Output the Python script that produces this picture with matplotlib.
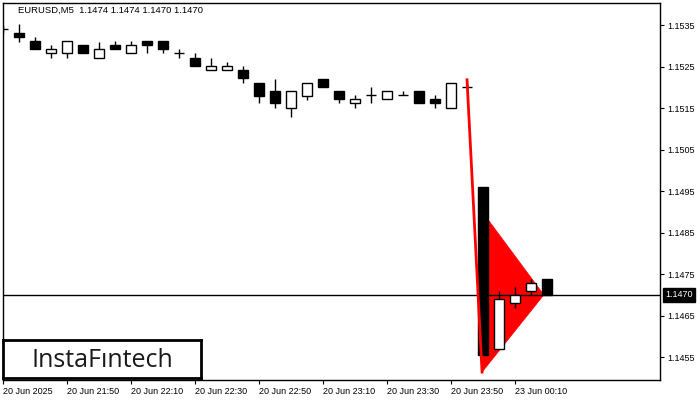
import matplotlib
matplotlib.use("Agg")
import matplotlib.pyplot as plt
from matplotlib.patches import Polygon

# ---- data (EURUSD M5) ----
opens = [1.15340, 1.15331, 1.15311, 1.15283, 1.15283, 1.15302, 1.15270, 1.15302,
         1.15283, 1.15311, 1.15311, 1.15283, 1.15270, 1.15242, 1.15242, 1.15242,
         1.15210, 1.15191, 1.15150, 1.15179, 1.15220, 1.15191, 1.15162, 1.15181,
         1.15172, 1.15181, 1.15191, 1.15172, 1.15150, 1.15201, 1.14960, 1.14569,
         1.14680, 1.14709, 1.14738]
highs = [1.15350, 1.15352, 1.15321, 1.15302, 1.15311, 1.15302, 1.15309, 1.15311,
         1.15311, 1.15311, 1.15311, 1.15292, 1.15283, 1.15270, 1.15261, 1.15251,
         1.15210, 1.15220, 1.15191, 1.15210, 1.15220, 1.15191, 1.15181, 1.15201,
         1.15191, 1.15191, 1.15191, 1.15181, 1.15210, 1.15210, 1.14960, 1.14709,
         1.14719, 1.14738, 1.14738]
lows = [1.15331, 1.15309, 1.15292, 1.15270, 1.15270, 1.15283, 1.15270, 1.15292,
        1.15283, 1.15283, 1.15283, 1.15270, 1.15251, 1.15242, 1.15242, 1.15210,
        1.15162, 1.15150, 1.15128, 1.15169, 1.15201, 1.15162, 1.15150, 1.15162,
        1.15172, 1.15181, 1.15162, 1.15150, 1.15150, 1.15193, 1.14555, 1.14569,
        1.14668, 1.14699, 1.14700]
closes = [1.15340, 1.15321, 1.15292, 1.15292, 1.15311, 1.15283, 1.15292, 1.15292,
          1.15302, 1.15302, 1.15292, 1.15283, 1.15251, 1.15251, 1.15251, 1.15222,
          1.15179, 1.15162, 1.15191, 1.15210, 1.15201, 1.15172, 1.15172, 1.15181,
          1.15191, 1.15181, 1.15162, 1.15162, 1.15210, 1.15201, 1.14555, 1.14690,
          1.14699, 1.14728, 1.14700]

tick_bars = [0, 4, 8, 12, 16, 20, 24, 28, 32]
tick_labels = ["20 Jun 2025", "20 Jun 21:50", "20 Jun 22:10", "20 Jun 22:30",
               "20 Jun 22:50", "20 Jun 23:10", "20 Jun 23:30", "20 Jun 23:50",
               "23 Jun 00:10"]
price_ticks = [1.1535, 1.1525, 1.1515, 1.1505, 1.1495, 1.1485, 1.1475, 1.1465, 1.1455]

# pennant pattern
pole_x = [29.0, 29.94]
pole_y = [1.15218, 1.14514]
pennant_x = [30.375, 29.94, 33.8]
pennant_y = [1.14878, 1.14514, 1.14700]
last_price = 1.1470

FONT = "Liberation Sans"

fig = plt.figure(figsize=(7, 4), dpi=100)
ax = fig.add_axes([3 / 700, 1 - 380 / 400, 657 / 700, 377 / 400])

# pennant triangle behind candles
ax.add_patch(Polygon(list(zip(pennant_x, pennant_y)), closed=True,
                     facecolor="red", edgecolor="red", lw=0.5, zorder=1))

w = 0.62
for i, (o, h, l, c) in enumerate(zip(opens, highs, lows, closes)):
    ax.vlines(i, l, h, color="black", lw=1, zorder=2)
    if abs(c - o) < 1e-6:
        ax.hlines(o, i - w / 2, i + w / 2, color="black", lw=1, zorder=3)
    else:
        fc = "black" if c < o else "white"
        ax.bar(i, abs(c - o), bottom=min(o, c), width=w, facecolor=fc,
               edgecolor="black", lw=1, zorder=3)

ax.plot(pole_x, pole_y, color="red", lw=2, zorder=4)
ax.axhline(last_price, color="black", lw=1, zorder=2)

ax.set_xlim(0, 41.06)
ax.set_ylim(1.14495, 1.15403)

ax.yaxis.tick_right()
ax.set_yticks(price_ticks)
ax.set_yticklabels([f"{p:.4f}" for p in price_ticks], fontsize=6.5, family=FONT)
ax.set_xticks(tick_bars)
ax.set_xticklabels(tick_labels, fontsize=6.5, family=FONT, ha="left")
ax.tick_params(axis="both", length=3, width=0.8, pad=2, colors="black")
for s in ax.spines.values():
    s.set_linewidth(1)

# current price box
ax.annotate(f"{last_price:.4f}", xy=(1.0, last_price),
            xycoords=("axes fraction", "data"), xytext=(4, 0),
            textcoords="offset points", ha="left", va="center",
            fontsize=6.5, family=FONT, color="white",
            bbox=dict(boxstyle="square,pad=0.25", fc="black", ec="black"),
            annotation_clip=False)

fig.text(18 / 700, 1 - 10 / 400, "EURUSD,M5  1.1474 1.1474 1.1470 1.1470",
         fontsize=6.8, family=FONT, ha="left", va="center")

# logo box
lax = fig.add_axes([3 / 700, 1 - 378 / 400, 198 / 700, 38 / 400])
lax.set_xticks([])
lax.set_yticks([])
lax.set_facecolor("white")
for s in lax.spines.values():
    s.set_linewidth(2)
lax.text(0.5, 0.47, "InstaFıntech", fontsize=18, family="Open Sans",
         ha="center", va="center", color="#1a1a1a",
         transform=lax.transAxes)

fig.savefig("out.png", dpi=100)
